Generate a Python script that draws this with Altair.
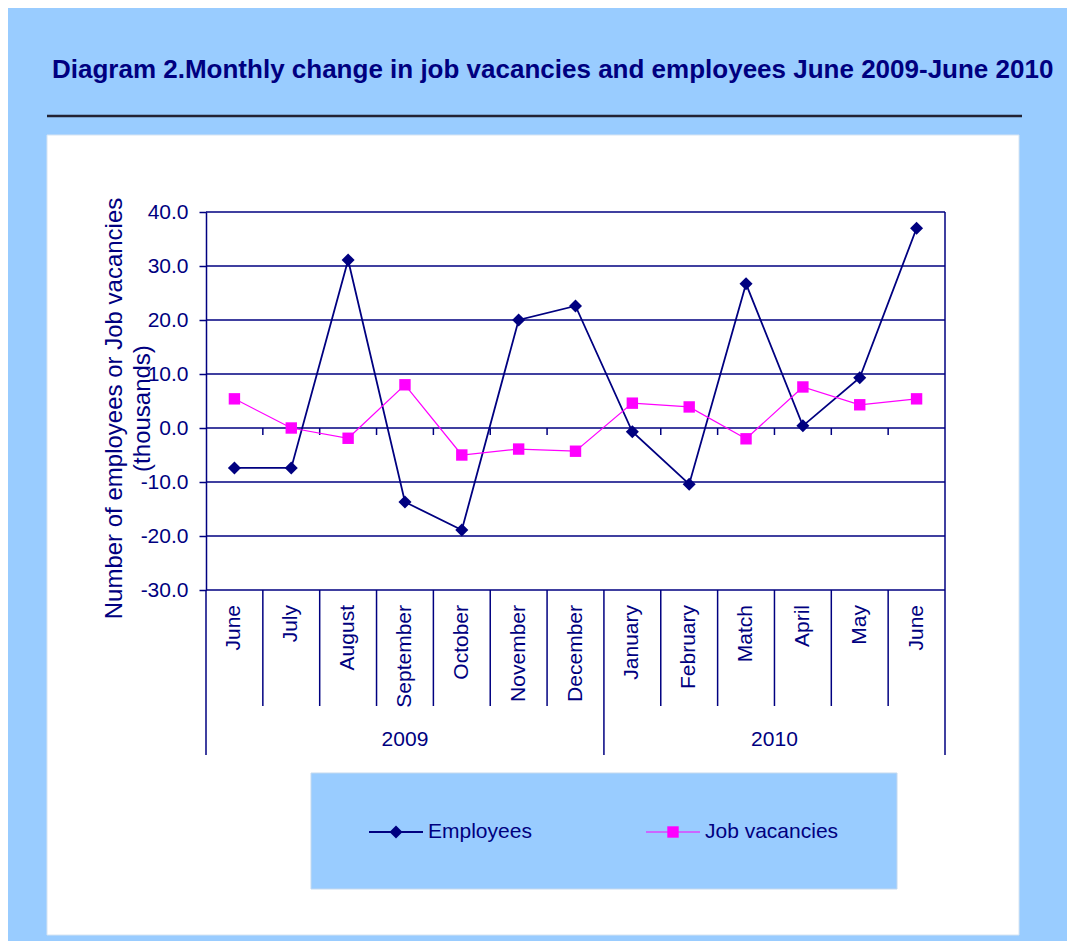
import altair as alt
import pandas as pd

# ---------------- data ----------------
months = ["June", "July", "August", "September", "October", "November", "December",
          "January", "February", "Match", "April", "May", "June"]
years = ["2009"] * 7 + ["2010"] * 6
employees = [-7.4, -7.4, 31.1, -13.7, -18.9, 20.0, 22.6, -0.7, -10.4, 26.7, 0.4, 9.3, 37.0]
vacancies = [5.4, 0.0, -1.9, 8.0, -5.0, -3.9, -4.3, 4.6, 3.9, -2.0, 7.6, 4.3, 5.4]
series_names = ["Employees", "Job vacancies"]
series_colors = ["#000080", "#FF00FF"]
series_shapes = ["diamond", "square"]
y_ticks = [-30, -20, -10, 0, 10, 20, 30, 40]
title_text = "Diagram 2.Monthly change in job vacancies and employees June 2009-June 2010"
y_title = ["Number of employees or Job vacancies", "(thousands)"]

# ---------------- styling ----------------
NAVY = "#000080"
BLUE_BG = "#99CCFF"
FONT = "Liberation Sans"
W, H = 739, 378
line_widths = [1.8, 1.2]
marker_sizes = [170, 130]

n = len(months)
pts = pd.DataFrame({"pos": [i + 0.5 for i in range(n)], "month": months, "year": years,
                    "Employees": employees, "Job vacancies": vacancies})
long = pts.melt(id_vars=["pos", "month", "year"], value_vars=series_names,
                var_name="series", value_name="value")

year_breaks = [0] + [i for i in range(1, n) if years[i] != years[i - 1]] + [n]
bounds = pd.DataFrame({"b": list(range(n + 1))})
bounds["major"] = bounds["b"].isin(year_breaks)
minor = bounds[~bounds["major"]].copy()
minor["z0"] = 0.0
minor["z1"] = -1.3
major = bounds[bounds["major"]].copy()

groups = pts.groupby("year", as_index=False).agg(start=("pos", "min"), end=("pos", "max"))
groups["mid"] = (groups["start"] + groups["end"]) / 2

xscale = alt.Scale(domain=[0, n], nice=False, zero=False)
yscale = alt.Scale(domain=[y_ticks[0], y_ticks[-1]], nice=False, zero=False)
one = alt.Data(values=[{"k": 0}])

yaxis = alt.Axis(values=y_ticks, grid=False, domain=True, domainColor=NAVY,
                 labelExpr="(datum.value < 0 ? '-' : '') + format(abs(datum.value), '.1f')",
                 domainWidth=1.5, ticks=True, tickColor=NAVY, tickWidth=1.5, tickSize=7,
                 labelColor=NAVY, labelFont=FONT, labelFontSize=21, labelPadding=11,
                 labelFlush=False, title=y_title, titleFont=FONT, titleFontSize=24,
                 titleFontWeight="normal", titleColor=NAVY, titleAngle=270,
                 titleAlign="center", titleBaseline="middle", titleLineHeight=28,
                 titleX=-92, titleY=196, zindex=1)

layers = []
# white panel
layers.append(alt.Chart(one).mark_rect(fill="white", stroke="#d6e4f2", strokeWidth=1).encode(
    x=alt.value(-159), x2=alt.value(813), y=alt.value(-77), y2=alt.value(723)))
# header rule
layers.append(alt.Chart(one).mark_rule(color="#222233", strokeWidth=2.5).encode(
    x=alt.value(-159), x2=alt.value(816), y=alt.value(-96)))
# title
layers.append(alt.Chart(one).mark_text(text=title_text, align="left", baseline="alphabetic",
                                       font=FONT, fontSize=26, fontWeight="bold", color=NAVY).encode(
    x=alt.value(-154), y=alt.value(-134)))
# gridlines (carry the y axis)
layers.append(alt.Chart(pd.DataFrame({"t": y_ticks})).mark_rule(color=NAVY, strokeWidth=1.5).encode(
    y=alt.Y("t:Q", scale=yscale, axis=yaxis)))
# right frame
layers.append(alt.Chart(one).mark_rule(color=NAVY, strokeWidth=1.5).encode(
    x=alt.value(W), y=alt.value(0), y2=alt.value(H)))
# category dividers
layers.append(alt.Chart(minor).mark_rule(color=NAVY, strokeWidth=1.5).encode(
    x=alt.X("b:Q", scale=xscale, axis=None), y=alt.value(H), y2=alt.value(494)))
layers.append(alt.Chart(major).mark_rule(color=NAVY, strokeWidth=1.5).encode(
    x=alt.X("b:Q", scale=xscale, axis=None), y=alt.value(H), y2=alt.value(543)))
# small ticks on the zero line
layers.append(alt.Chart(minor).mark_rule(color=NAVY, strokeWidth=1.5).encode(
    x=alt.X("b:Q", scale=xscale, axis=None), y=alt.Y("z0:Q", scale=yscale, axis=yaxis), y2="z1:Q"))
# month labels
layers.append(alt.Chart(pts).mark_text(angle=270, align="right", baseline="middle", font=FONT,
                                       fontSize=21, color=NAVY).encode(
    x=alt.X("pos:Q", scale=xscale, axis=None), y=alt.value(393), text="month:N"))
# year labels
layers.append(alt.Chart(groups).mark_text(align="center", baseline="middle", font=FONT,
                                          fontSize=21, color=NAVY).encode(
    x=alt.X("mid:Q", scale=xscale, axis=None), y=alt.value(528), text="year:N"))
# legend box
layers.append(alt.Chart(one).mark_rect(fill=BLUE_BG, stroke="#c4d9ef", strokeWidth=1).encode(
    x=alt.value(105), x2=alt.value(691), y=alt.value(561), y2=alt.value(677)))

for i, (name, col, shp, sw, sz) in enumerate(zip(series_names, series_colors, series_shapes,
                                                  line_widths, marker_sizes)):
    sub = alt.Chart(long).transform_filter(alt.datum.series == name)
    enc = dict(x=alt.X("pos:Q", scale=xscale, axis=None),
               y=alt.Y("value:Q", scale=yscale, axis=yaxis))
    layers.append(sub.mark_line(color=col, strokeWidth=sw).encode(**enc))
    layers.append(sub.mark_point(shape=shp, filled=True, color=col, size=sz, opacity=1).encode(**enc))
    # legend entry
    x0 = 163 + i * 277
    layers.append(alt.Chart(one).mark_rule(color=col, strokeWidth=sw).encode(
        x=alt.value(x0), x2=alt.value(x0 + 54), y=alt.value(620)))
    layers.append(alt.Chart(one).mark_point(shape=shp, filled=True, color=col, size=sz, opacity=1).encode(
        x=alt.value(x0 + 27), y=alt.value(620)))
    layers.append(alt.Chart(one).mark_text(text=name, align="left", baseline="middle", font=FONT,
                                           fontSize=21, color=NAVY).encode(
        x=alt.value(x0 + 59), y=alt.value(620)))

chart = alt.layer(*layers).properties(
    width=W, height=H,
    padding={"left": 198, "top": 204, "right": 122, "bottom": 351},
    autosize=alt.AutoSizeParams(type="none"),
    background=BLUE_BG,
).configure_view(stroke=None)

chart.save("out.html", embed_options={"renderer": "svg", "actions": False})
